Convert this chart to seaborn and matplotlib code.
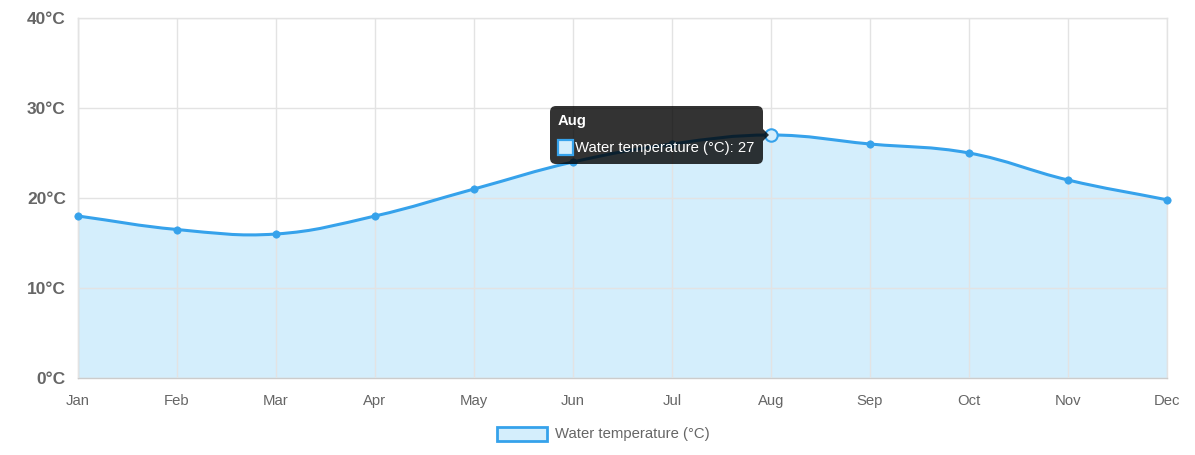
import numpy as np
import matplotlib
matplotlib.use("Agg")
import matplotlib.pyplot as plt
from matplotlib.path import Path
from matplotlib.patches import PathPatch, FancyBboxPatch, Rectangle, Polygon
from matplotlib.transforms import IdentityTransform
import seaborn as sns
import pandas as pd

# Data
months = ["Jan", "Feb", "Mar", "Apr", "May", "Jun",
          "Jul", "Aug", "Sep", "Oct", "Nov", "Dec"]
water_temp = [18, 16.5, 16, 18, 21, 24, 26, 27, 26, 25, 22, 19.8]
y_ticks = [0, 10, 20, 30, 40]
series_label = "Water temperature (°C)"
hover_month = "Aug"

line_color = "#36a2eb"
fill_color = "#d4eefc"
grid_color = "#e3e3e3"
text_color = "#666666"

sns.set_style("white")
plt.rcParams["font.family"] = ["Liberation Sans", "DejaVu Sans"]

W, H = 1195, 455
fig = plt.figure(figsize=(W / 100, H / 100), dpi=100)
ax = fig.add_axes([78 / W, 1 - 378 / H, (1167 - 78) / W, (378 - 18) / H])

df = pd.DataFrame({"month": months, "temp": water_temp})
df["x"] = np.arange(len(months))

ax.set_xlim(0, len(months) - 1)
ax.set_ylim(y_ticks[0], y_ticks[-1])


def spline_path(xs, ys, tension=0.4, sx=99.0, sy=9.0):
    # Chart.js style bezier control points (distances in pixel space)
    n = len(xs)
    pts = np.column_stack([xs, ys]).astype(float)
    cp_prev = pts.copy()
    cp_next = pts.copy()
    for i in range(n):
        p0 = pts[max(i - 1, 0)]
        p1 = pts[i]
        p2 = pts[min(i + 1, n - 1)]
        d01 = np.hypot((p1[0] - p0[0]) * sx, (p1[1] - p0[1]) * sy)
        d12 = np.hypot((p2[0] - p1[0]) * sx, (p2[1] - p1[1]) * sy)
        tot = d01 + d12
        s01 = d01 / tot if tot else 0
        s12 = d12 / tot if tot else 0
        cp_prev[i] = p1 - tension * s01 * (p2 - p0)
        cp_next[i] = p1 + tension * s12 * (p2 - p0)
    verts = [tuple(pts[0])]
    codes = [Path.MOVETO]
    for i in range(1, n):
        verts += [tuple(cp_next[i - 1]), tuple(cp_prev[i]), tuple(pts[i])]
        codes += [Path.CURVE4] * 3
    return verts, codes


verts, codes = spline_path(df["x"].values, df["temp"].values)

# filled area under curve
fill_verts = verts + [(df["x"].iloc[-1], 0), (df["x"].iloc[0], 0), verts[0]]
fill_codes = codes + [Path.LINETO, Path.LINETO, Path.CLOSEPOLY]
ax.add_patch(PathPatch(Path(fill_verts, fill_codes), facecolor=fill_color,
                       edgecolor="none", zorder=1))
ax.add_patch(PathPatch(Path(verts, codes), facecolor="none",
                       edgecolor=line_color, lw=2.2, zorder=3))

# points
sns.scatterplot(data=df[df["month"] != hover_month], x="x", y="temp", ax=ax,
                color=line_color, s=28, edgecolor=line_color, linewidth=0.5,
                zorder=4, legend=False, clip_on=False)
hov = df[df["month"] == hover_month]
ax.scatter(hov["x"], hov["temp"], s=80, facecolor=fill_color,
           edgecolor=line_color, linewidth=1.5, zorder=5, clip_on=False)

# axes styling
ax.set_xticks(df["x"])
ax.set_xticklabels(months, fontsize=10.7, color=text_color)
ax.set_yticks(y_ticks)
ax.set_yticklabels([f"{t}°C" for t in y_ticks], fontsize=12.5,
                   fontweight="bold", color=text_color)
ax.set_xlabel("")
ax.set_ylabel("")
ax.set_axisbelow(False)
ax.grid(True, color=grid_color, lw=1)
ax.tick_params(axis="both", length=5.8, width=1, color=grid_color)
ax.tick_params(axis="y", pad=3.0)
ax.tick_params(axis="x", pad=5.5)
for side in ["top", "right"]:
    ax.spines[side].set_color(grid_color)
for side in ["left", "bottom"]:
    ax.spines[side].set_color("#cccccc")
for sp in ax.spines.values():
    sp.set_linewidth(1)

# tooltip (display-pixel coordinates relative to the hovered point)
fig.canvas.draw()
px, py = ax.transData.transform((hov["x"].iloc[0], hov["temp"].iloc[0]))
ident = IdentityTransform()
left, right = px - 221, px - 8
bottom, top = py - 29, py + 29
box = FancyBboxPatch((left, bottom), right - left, top - bottom,
                     boxstyle="round,pad=0,rounding_size=6",
                     facecolor=(0, 0, 0, 0.8), edgecolor="none",
                     transform=ident, zorder=10)
fig.patches.append(box)
caret = Polygon([(right, py - 6), (px - 2, py), (right, py + 6)],
                closed=True, facecolor=(0, 0, 0, 0.8), edgecolor="none",
                transform=ident, zorder=10)
fig.patches.append(caret)
fig.text((left + 8) / W, (py + 14) / H, hover_month, color="white",
         fontsize=10.7, fontweight="bold", va="center", ha="left", zorder=11)
fig.patches.append(Rectangle((left + 8, py - 20), 15, 15, facecolor=fill_color,
                             edgecolor=line_color, lw=1.6, transform=ident,
                             zorder=11))
fig.text((left + 25) / W, (py - 13) / H,
         f"{series_label}: {hov['temp'].iloc[0]:g}", color="white",
         fontsize=10.7, va="center", ha="left", zorder=11)

# legend at bottom
fig.patches.append(Rectangle((497, H - 441), 50, 14, facecolor=fill_color,
                             edgecolor=line_color, lw=2, transform=ident))
fig.text(555 / W, (H - 434) / H, series_label, color=text_color,
         fontsize=10.7, va="center", ha="left")

fig.savefig("out.png", dpi=100)
